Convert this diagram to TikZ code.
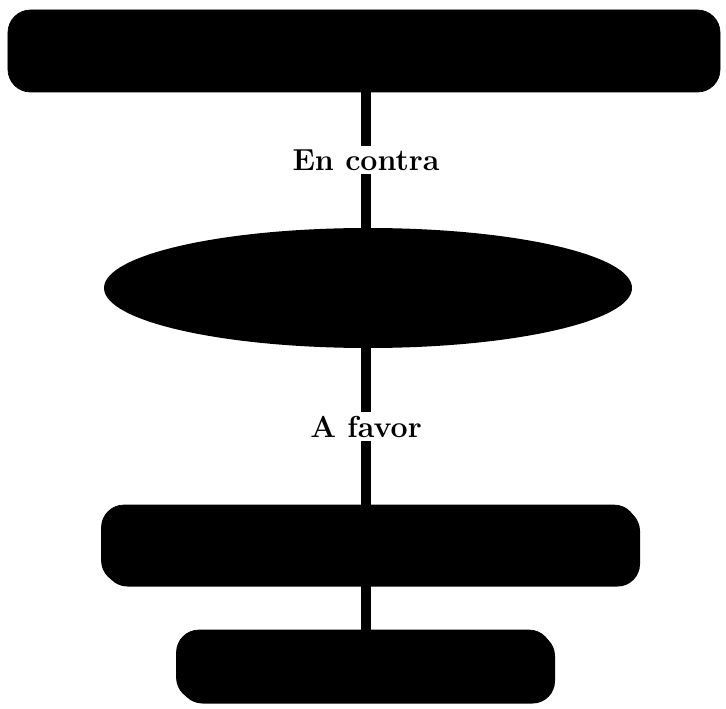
\documentclass[tikz,border=0pt]{standalone}
\usepackage{tikz}
\usetikzlibrary{shapes.geometric,shadows}
\tikzset{every node/.append style={align=center}}

\begin{document}
\begin{tikzpicture}[x=1cm,y=1cm,
    blackbox/.style={fill=black, draw=black, rounded corners=0.45cm},
    shadowbox/.style={blackbox, drop shadow={shadow xshift=2pt, shadow yshift=-2pt, fill=black, opacity=1}},
    link/.style={line width=5.6pt, draw=black},
    linklabel/.style={fill=white, inner sep=2pt, font=\LARGE\bfseries}]
  \useasboundingbox (0,0) rectangle (14.52,-14.18);

  \node[blackbox, minimum width=14.24cm, minimum height=1.64cm] (titulo) at (7.28,-1.02) {};
  \node[ellipse, fill=black, minimum width=10.56cm, minimum height=2.4cm] (accion) at (7.36,-5.76) {};
  \node[shadowbox, minimum width=10.7cm, minimum height=1.56cm] (medida) at (7.38,-10.88) {};
  \node[shadowbox, minimum width=7.5cm, minimum height=1.4cm] (resultado) at (7.28,-13.3) {};

  \draw[link] (titulo.south -| 7.32,0) -- (accion.north -| 7.32,0)
    node[midway, linklabel] (contra) {En contra};
  \draw[link] (accion.south -| 7.32,0) -- (medida.north -| 7.32,0)
    node[midway, linklabel] (favor) {A favor};
  \draw[link] (medida.south -| 7.32,0) -- (resultado.north -| 7.32,0);
\end{tikzpicture}
\end{document}
